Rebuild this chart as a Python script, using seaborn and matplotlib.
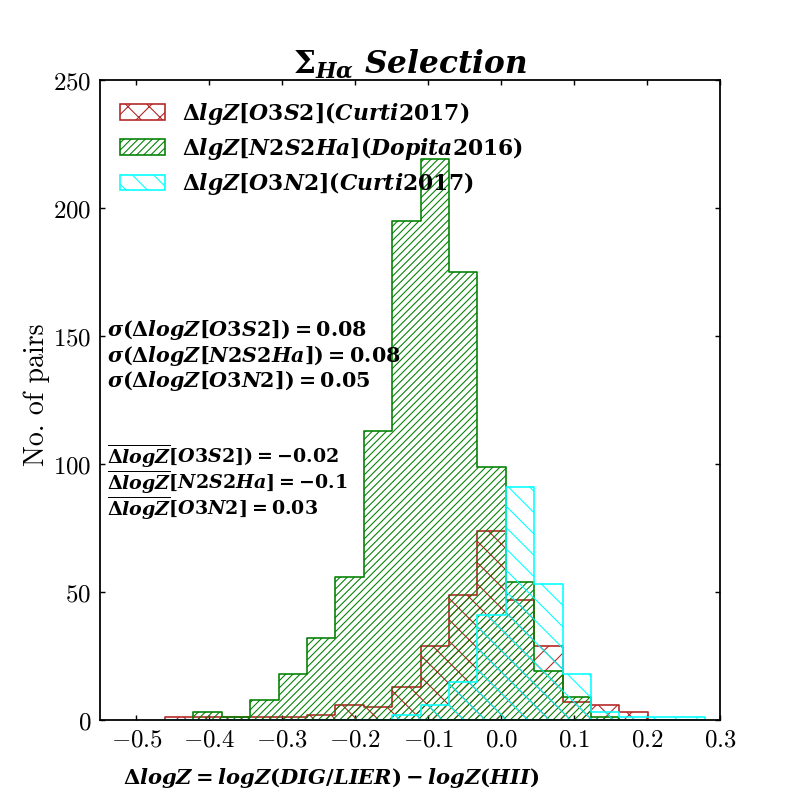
import numpy as np
import pandas as pd
import matplotlib
matplotlib.use("Agg")
import matplotlib.pyplot as plt
import seaborn as sns

# ---------------- data ----------------
bin_edges = list(np.linspace(-0.461, 0.279, 20))
red_counts = [1, 1, 1, 1, 1, 2, 6, 5, 13, 29, 49, 74, 47, 29, 7, 6, 3, 0, 0]
green_counts = [0, 3, 1, 8, 18, 32, 56, 113, 195, 219, 175, 99, 54, 19, 9, 1, 0, 0, 0]
cyan_counts = [0, 0, 0, 0, 0, 0, 0, 0, 2, 6, 15, 41, 91, 53, 18, 3, 1, 1, 1]

series_labels = [r"$\Delta lgZ[O3S2](Curti2017)$",
                 r"$\Delta lgZ[N2S2Ha](Dopita2016)$",
                 r"$\Delta lgZ[O3N2](Curti2017)$"]
series_colors = ["#b22222", "green", "cyan"]
series_hatches = ["xx", "//////", "\\\\"]

sigma_texts = [r"$\sigma(\Delta logZ[O3S2]) = 0.08$",
               r"$\sigma(\Delta logZ[N2S2Ha]) = 0.08$",
               r"$\sigma(\Delta logZ[O3N2]) = 0.05$"]
mean_texts = [r"$\overline{\Delta logZ}[O3S2]) = -0.02$",
              r"$\overline{\Delta logZ}[N2S2Ha] = -0.1$",
              r"$\overline{\Delta logZ}[O3N2] = 0.03$"]
sigma_y = [150, 140, 130]
mean_y = [100, 90, 80]
text_x = -0.54

xticks = [-0.5, -0.4, -0.3, -0.2, -0.1, 0.0, 0.1, 0.2, 0.3]
yticks = [0, 50, 100, 150, 200, 250]

# ---------------- style ----------------
DPI = 128
sns.set_style("ticks")
plt.rcParams.update({
    "font.family": ["DejaVu Serif"],
    "mathtext.fontset": "custom",
    "mathtext.rm": "DejaVu Serif:bold",
    "mathtext.it": "DejaVu Serif:italic:bold",
    "mathtext.bf": "DejaVu Serif:bold",
    "hatch.linewidth": 0.6,
    "axes.linewidth": 1.0,
    "axes.edgecolor": "black",
    "text.color": "black",
    "axes.labelcolor": "black",
    "axes.titlecolor": "black",
    "xtick.color": "black",
    "ytick.color": "black",
})

fig = plt.figure(figsize=(800 / DPI, 800 / DPI), dpi=DPI)
ax = fig.add_axes([0.125, 0.1, 0.775, 0.8])

centers = [(a + b) / 2 for a, b in zip(bin_edges[:-1], bin_edges[1:])]
all_counts = [red_counts, green_counts, cyan_counts]
for counts, lab, col, hat in zip(all_counts, series_labels, series_colors, series_hatches):
    df = pd.DataFrame({"x": centers, "w": counts})
    sns.histplot(data=df, x="x", weights="w", bins=bin_edges, element="step",
                 fill=True, color=col, facecolor="none", edgecolor=col, hatch=hat,
                 linewidth=0.9, label=lab, ax=ax)

ax.set_xlim(-0.55, 0.3)
ax.set_ylim(0, 250)
ax.set_xticks(xticks)
ax.set_xticklabels([f"${v:.1f}$" for v in xticks], math_fontfamily="cm", fontsize=14)
ax.set_yticks(yticks)
ax.set_yticklabels([f"${v}$" for v in yticks], math_fontfamily="cm", fontsize=14)
ax.tick_params(direction="in", length=3, width=0.8, top=True, right=True, pad=5, colors="black")

ax.set_title(r"$\Sigma_{H\alpha}\ Selection$", fontsize=17.5, pad=3.5, color="black")
ax.set_xlabel(r"$\Delta logZ = logZ(DIG/LIER) - logZ(HII)$", fontsize=11.8, color="black")
ax.xaxis.set_label_coords(0.373, -0.072)
ax.set_ylabel("No. of pairs", family="cmr10", fontsize=15.7, color="black")
ax.yaxis.set_label_coords(-0.081, 0.508)

for t, y in zip(sigma_texts, sigma_y):
    ax.text(text_x, y, t, fontsize=11.6, color="black")
for t, y in zip(mean_texts, mean_y):
    ax.text(text_x, y, t, fontsize=10.7, color="black")

ax.legend(loc="upper left", frameon=False, fontsize=12.3, handlelength=2.05,
          handleheight=0.7, handletextpad=0.8, labelspacing=0.37, borderaxespad=0.5,
          labelcolor="black")

fig.savefig("out.png", dpi=DPI, facecolor="white")
